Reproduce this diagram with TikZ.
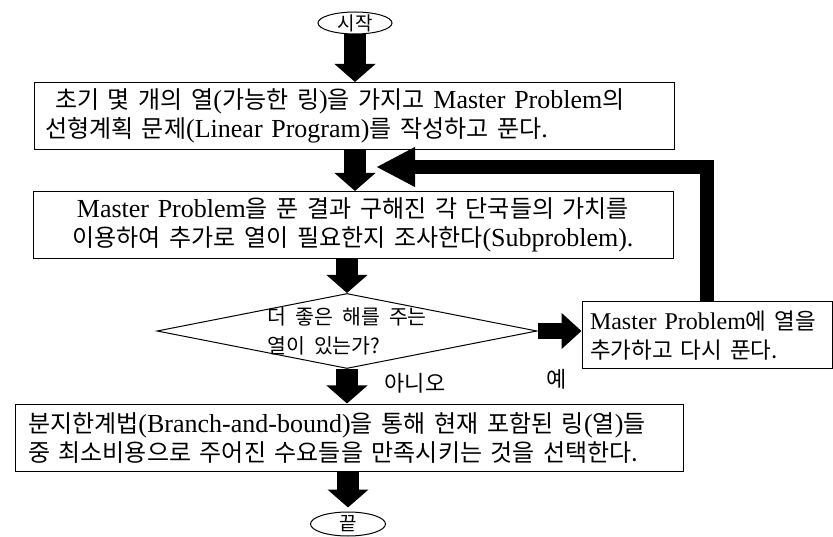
\documentclass[tikz,border=0pt]{standalone}
\usepackage{fontspec}
\setmainfont{Liberation Serif}
\newfontfamily\krfont[WordSpace=2]{Noto Sans CJK KR}
\usetikzlibrary{shapes.geometric,arrows.meta}
% Korean runs are set in a sans CJK face, Latin runs in a Times-like serif
\newcommand\krsize{24}
\newcommand\K[1]{{\krfont\fontsize{\krsize}{29}\selectfont #1}}

\begin{document}
\begin{tikzpicture}[x=1pt,y=-1pt,
  box/.style={draw, line width=1pt, minimum height=67pt, inner ysep=0pt,
              font=\fontsize{26}{29}\selectfont},
  smallbox/.style={draw, line width=1pt, minimum height=67pt, inner ysep=0pt,
              font=\renewcommand\krsize{22.5}\fontsize{24}{29}\selectfont},
  term/.style={draw, ellipse, line width=1pt, inner sep=0pt},
  termtext/.style={inner sep=0pt, font=\krfont\fontsize{19}{21}\selectfont},
  lbl/.style={inner sep=0pt, font=\krfont\fontsize{22}{24}\selectfont},
  fat/.style={line width=22pt, -{Triangle[width=40pt,length=18pt]}},
  side/.style={line width=16pt, -{Triangle[width=35pt,length=20pt]}},
  loopback/.style={line width=14pt, line join=miter, -{Triangle[width=37pt,length=39pt]}}
]
\useasboundingbox (0,0) rectangle (833,537);

% terminals
\node[term, minimum width=74pt, minimum height=22pt,
      label={[termtext]center:시작}] (start) at (355,23) {};
\node[term, minimum width=75pt, minimum height=24pt,
      label={[termtext]center:끝}] (stop) at (348,524) {};

% process boxes
\node[box, minimum width=640pt, text width=618pt, inner xsep=11pt, align=left] (init) at (354,116)
  {\hspace*{10pt}\K{초기 몇 개의 열}(\K{가능한 링})\K{을 가지고} Master Problem\K{의}\\
   \K{선형계획 문제}(Linear Program)\K{를 작성하고 푼다}.};

\node[box, minimum width=640pt, text width=618pt, inner xsep=11pt, align=center] (sub) at (353,225)
  {Master Problem\K{을 푼 결과 구해진 각 단국들의 가치를}\\
   \K{이용하여 추가로 열이 필요한지 조사한다}(Subproblem).};

\node[draw, diamond, line width=1pt, minimum width=380pt, minimum height=75pt, inner sep=0pt,
      label={[align=left, inner sep=0pt, font=\renewcommand\krsize{20.5}\fontsize{21}{29}\selectfont]center:\K{더 좋은 해를 주는}\\\K{열이 있는가?}}]
  (dec) at (347,331) {};

\node[smallbox, minimum width=250pt, text width=234pt, inner xsep=8pt, align=left] (add) at (707,335.5)
  {Master Problem\K{에 열을}\\
   \K{추가하고 다시 푼다.}};

\node[box, minimum width=668pt, text width=642pt, inner xsep=13pt, align=left] (bb) at (349,437.5)
  {\K{분지한계법}(Branch-and-bound)\K{을 통해 현재 포함된 링}(\K{열})\K{들}\\
   \K{중 최소비용으로 주어진 수요들을 만족시키는 것을 선택한다.}};

% branch labels
\node[lbl] (no) at (415,383) {아니오};
\node[lbl] (yes) at (557,379) {예};

% free end of the loop-back arrow
\coordinate (back) at (376,167);

% connectors
\draw[fat] (start.south) -- (start.south |- init.north);
\draw[fat] (start.south |- init.south) -- (start.south |- sub.north);
\draw[loopback] (add.north) |- (back);
\draw[fat] (dec.north |- sub.south) -- (dec.north);
\draw[side] (dec.east) -- (dec.east -| add.west);
\draw[fat] (dec.south) -- (dec.south |- bb.north);
\draw[fat, shorten >=4pt] (stop.north |- bb.south) -- (stop.north);
\end{tikzpicture}
\end{document}
